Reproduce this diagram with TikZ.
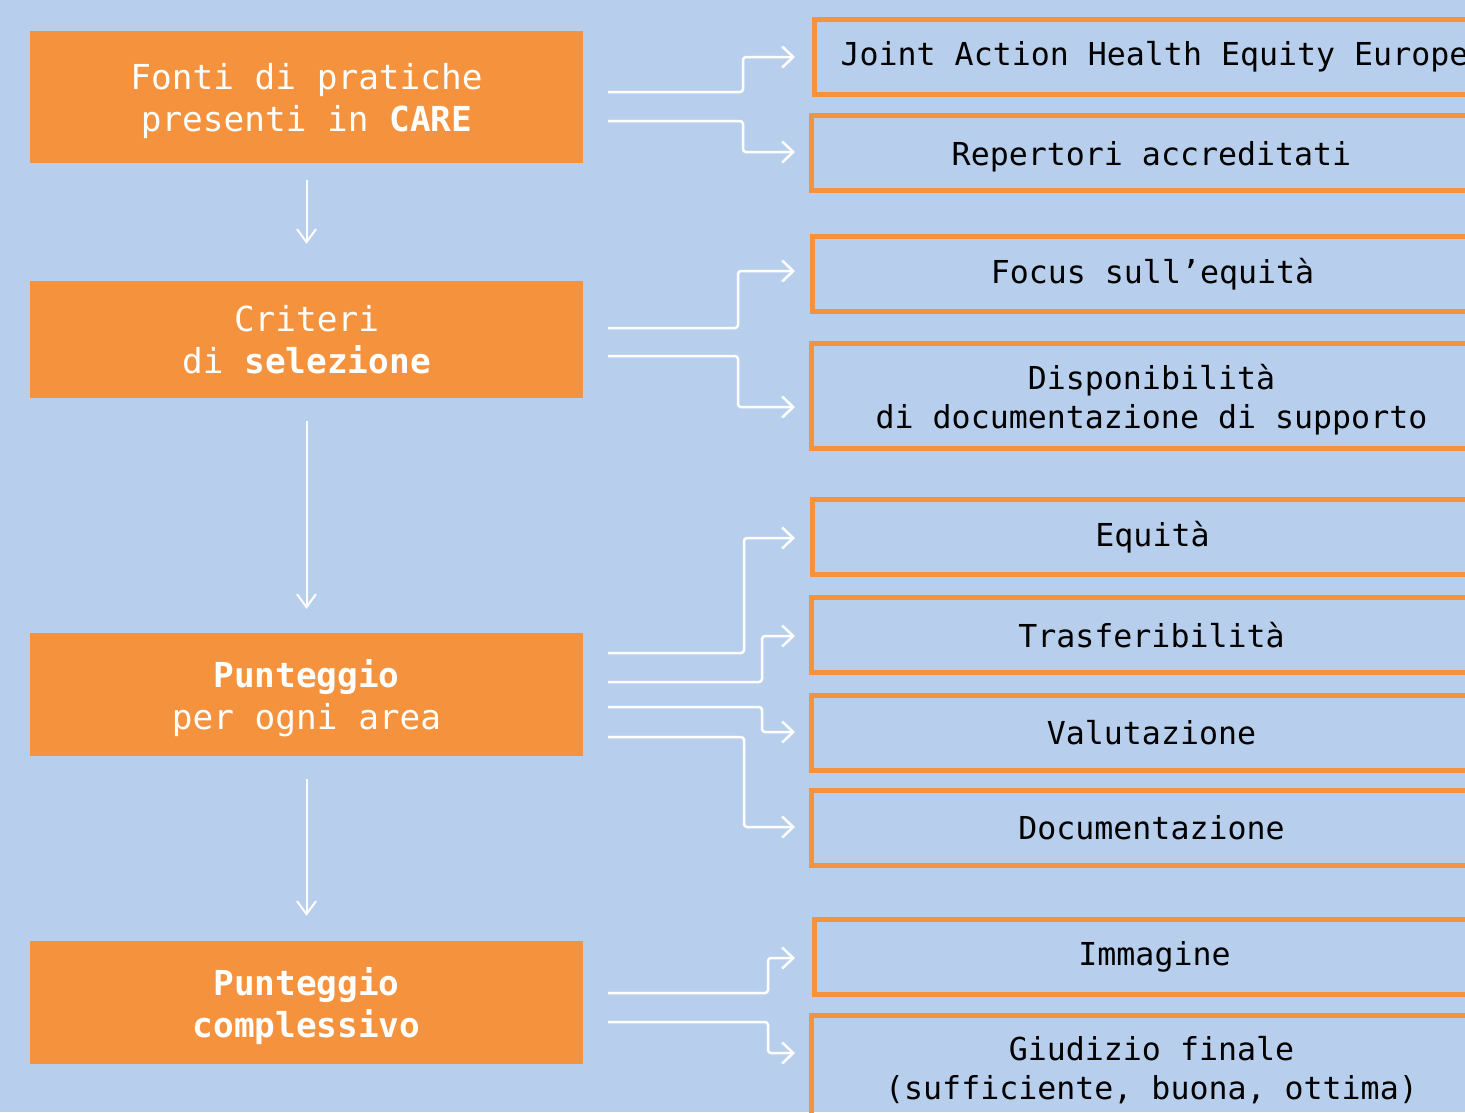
\documentclass[tikz,border=0pt]{standalone}
\usepackage{fontspec}
\setmonofont{DejaVu Sans Mono}
\usetikzlibrary{arrows.meta}
\definecolor{bgblue}{RGB}{183,207,236}
\definecolor{orng}{RGB}{245,146,62}
\tikzset{
  lbox/.style={fill=orng, text=white, minimum width=553pt, align=center, inner sep=0pt,
    font=\ttfamily\fontsize{34.4}{42}\selectfont},
  rbox/.style={draw=orng, line width=5pt, minimum width=680pt, minimum height=75pt,
    align=center, inner sep=0pt, text=black,
    font=\ttfamily\fontsize{31.6}{39}\selectfont},
  conn/.style={draw=white, line width=2.5pt, rounded corners=3pt,
    -{Straight Barb[length=11pt,width=21pt]}},
  downarr/.style={draw=white, line width=2pt,
    -{Straight Barb[length=13pt,width=19pt]}}
}
\begin{document}
\begin{tikzpicture}[x=1pt,y=-1pt]
\useasboundingbox (0,0) rectangle (1465,1112);
\clip (0,0) rectangle (1465,1112);
\fill[bgblue] (0,0) rectangle (1465,1112);

% left column
\node[lbox, minimum height=132pt, text depth=0pt] (L1) at (306.5,97) {Fonti di pratiche\\presenti in \textbf{CARE}};
\node[lbox, minimum height=117pt] (L2) at (306.5,339.5) {Criteri\\di \textbf{selezione}};
\node[lbox, minimum height=123pt, text depth=0pt] (L3) at (306.5,694.5) {\textbf{Punteggio}\\per ogni area};
\node[lbox, minimum height=123pt, text depth=0pt] (L4) at (306.5,1002.5) {\textbf{Punteggio}\\\textbf{complessivo}};

% right column
\node[rbox] (A) at (1154.5,57) {Joint Action Health Equity Europe};
\node[rbox, text depth=0pt] (B) at (1151.5,153) {Repertori accreditati};
\node[rbox] (C) at (1152.5,274) {Focus sull’equità};
\node[rbox, minimum height=105pt, text depth=0pt] (D) at (1151.5,396) {Disponibilità\\di documentazione di supporto};
\node[rbox] (E) at (1152.5,537) {Equità};
\node[rbox] (F) at (1151.5,635) {Trasferibilità};
\node[rbox] (G) at (1151.5,733) {Valutazione};
\node[rbox] (H) at (1151.5,828) {Documentazione};
\node[rbox] (I) at (1154.5,957) {Immagine};
\node[rbox, minimum height=109pt] (J) at (1151.5,1070) {Giudizio finale\\(sufficiente, buona, ottima)};

% vertical arrows
\draw[downarr] ([yshift=-17pt]L1.south) -- ([yshift=37pt]L2.north);
\draw[downarr] ([yshift=-23pt]L2.south) -- ([yshift=24pt]L3.north);
\draw[downarr] ([yshift=-23pt]L3.south) -- ([yshift=25pt]L4.north);

% connector starts
\coordinate (s1a) at (608,92);
\coordinate (s1b) at (608,121);
\coordinate (s2a) at (608,328);
\coordinate (s2b) at (608,356);
\coordinate (s3a) at (608,653);
\coordinate (s3b) at (608,682);
\coordinate (s3c) at (608,707);
\coordinate (s3d) at (608,737);
\coordinate (s4a) at (608,993);
\coordinate (s4b) at (608,1022);

\draw[conn] (s1a) -- ++(135,0) |- ([xshift=-17pt]A.west);
\draw[conn] (s1b) -- ++(135,0) |- ([xshift=-14pt,yshift=1pt]B.west);
\draw[conn] (s2a) -- ++(130,0) |- ([xshift=-15pt,yshift=3pt]C.west);
\draw[conn] (s2b) -- ++(130,0) |- ([xshift=-14pt,yshift=-11pt]D.west);
\draw[conn] (s3a) -- ++(136,0) |- ([xshift=-15pt,yshift=-1pt]E.west);
\draw[conn] (s3b) -- ++(154,0) |- ([xshift=-14pt,yshift=-1pt]F.west);
\draw[conn] (s3c) -- ++(154,0) |- ([xshift=-14pt,yshift=1pt]G.west);
\draw[conn] (s3d) -- ++(136,0) |- ([xshift=-14pt,yshift=1pt]H.west);
\draw[conn] (s4a) -- ++(160,0) |- ([xshift=-17pt,yshift=-1pt]I.west);
\draw[conn] (s4b) -- ++(160,0) |- ([xshift=-14pt,yshift=17pt]J.west);
\end{tikzpicture}
\end{document}
